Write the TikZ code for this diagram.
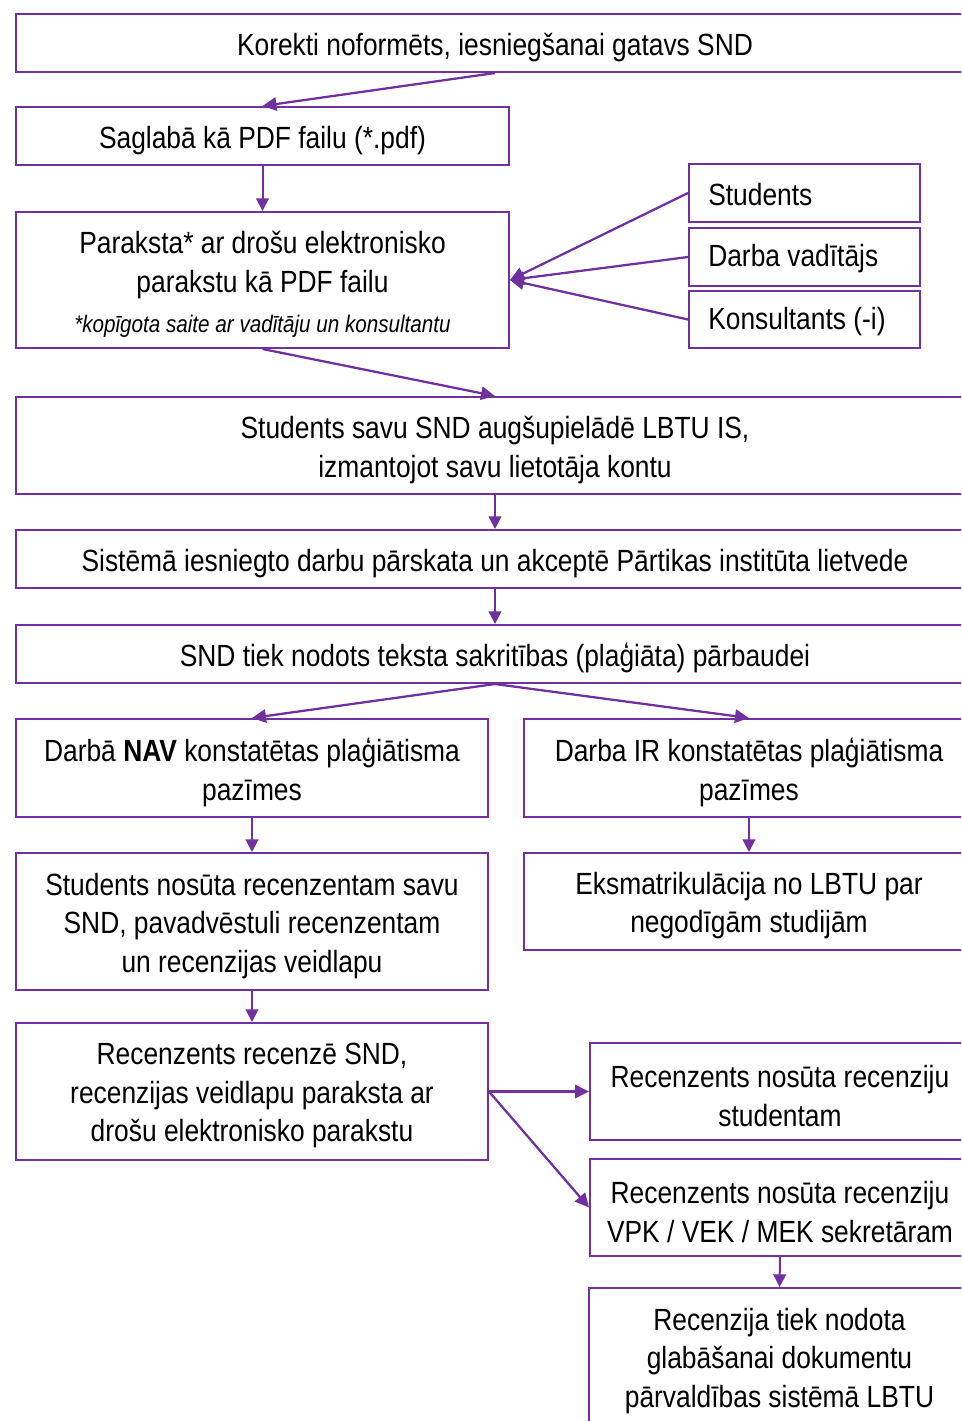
\documentclass[tikz,border=0pt]{standalone}
\usepackage{fontspec}
\setmainfont{Liberation Sans}[FakeStretch=0.86]
\usetikzlibrary{arrows.meta}
\definecolor{pp}{HTML}{7030A0}
\def\pxu{0.75pt}
\tikzset{
  pbox/.style={draw=pp, line width=1.5pt, rectangle, inner sep=0pt},
  txt/.style={align=center, inner sep=0pt, yshift=-3.2pt, font=\fontsize{23}{28.9}\selectfont},
  conn/.style={draw=pp, line width=1.7pt, -{Triangle[length=10.5pt,width=10pt]}},
  vconn/.style={draw=pp, line width=1.5pt, -{Triangle[length=9.5pt,width=9.5pt]}},
}
\begin{document}
\begin{tikzpicture}[x=0.75pt,y=-0.75pt]
\useasboundingbox (0,0) rectangle (961,1421);
\clip (0,0) rectangle (961,1421);
% boxes
\node[pbox, minimum width=958*\pxu, minimum height=58*\pxu] (b1) at (495,43) {};
\node[pbox, minimum width=493*\pxu, minimum height=58*\pxu] (b2) at (262.5,136) {};
\node[pbox, minimum width=493*\pxu, minimum height=136*\pxu] (b3) at (262.5,280) {};
\node[pbox, minimum width=231*\pxu, minimum height=58*\pxu] (s1) at (804.5,193) {};
\node[pbox, minimum width=231*\pxu, minimum height=58*\pxu] (s2) at (804.5,257) {};
\node[pbox, minimum width=231*\pxu, minimum height=57*\pxu] (s3) at (804.5,319.5) {};
\node[pbox, minimum width=958*\pxu, minimum height=97*\pxu] (b4) at (495,445.5) {};
\node[pbox, minimum width=958*\pxu, minimum height=58*\pxu] (b5) at (495,559) {};
\node[pbox, minimum width=958*\pxu, minimum height=58*\pxu] (b6) at (495,654) {};
\node[pbox, minimum width=472*\pxu, minimum height=98*\pxu] (b7l) at (252,768) {};
\node[pbox, minimum width=450*\pxu, minimum height=98*\pxu] (b7r) at (749,768) {};
\node[pbox, minimum width=472*\pxu, minimum height=137*\pxu] (b8l) at (252,921.5) {};
\node[pbox, minimum width=450*\pxu, minimum height=97*\pxu] (b8r) at (749,901.5) {};
\node[pbox, minimum width=472*\pxu, minimum height=137*\pxu] (b9) at (252,1091.5) {};
\node[pbox, minimum width=380*\pxu, minimum height=97*\pxu] (b10) at (780,1091.5) {};
\node[pbox, minimum width=380*\pxu, minimum height=97*\pxu] (b11) at (780,1207.5) {};
\node[pbox, minimum width=381*\pxu, minimum height=137*\pxu] (b12) at (779.5,1356.5) {};
% texts
\node[txt] (t1) at (b1.center) {Korekti noformēts, iesniegšanai gatavs SND};
\node[txt] (t2) at (b2.center) {Saglabā kā PDF failu (*.pdf)};
\node[txt] (t3) at (b3.center) {Paraksta* ar drošu elektronisko\\parakstu kā PDF failu\\[1pt]{\fontsize{18}{22}\itshape\selectfont *kopīgota saite ar vadītāju un konsultantu}};
\node[txt, anchor=west, yshift=2pt] (ts1) at ([xshift=20*\pxu]s1.west) {Students};
\node[txt, anchor=west, yshift=2pt] (ts2) at ([xshift=20*\pxu]s2.west) {Darba vadītājs};
\node[txt, anchor=west, yshift=2pt] (ts3) at ([xshift=20*\pxu]s3.west) {Konsultants (-i)};
\node[txt] (t4) at (b4.center) {Students savu SND augšupielādē LBTU IS,\\izmantojot savu lietotāja kontu};
\node[txt] (t5) at (b5.center) {Sistēmā iesniegto darbu pārskata un akceptē Pārtikas institūta lietvede};
\node[txt] (t6) at (b6.center) {SND tiek nodots teksta sakritības (plaģiāta) pārbaudei};
\node[txt] (t7l) at (b7l.center) {Darbā \textbf{NAV} konstatētas plaģiātisma\\pazīmes};
\node[txt] (t7r) at (b7r.center) {Darba IR konstatētas plaģiātisma\\pazīmes};
\node[txt] (t8l) at (b8l.center) {Students nosūta recenzentam savu\\SND, pavadvēstuli recenzentam\\un recenzijas veidlapu};
\node[txt] (t8r) at (b8r.center) {Eksmatrikulācija no LBTU par\\negodīgām studijām};
\node[txt] (t9) at (b9.center) {Recenzents recenzē SND,\\recenzijas veidlapu paraksta ar\\drošu elektronisko parakstu};
\node[txt] (t10) at (b10.center) {Recenzents nosūta recenziju\\studentam};
\node[txt] (t11) at (b11.center) {Recenzents nosūta recenziju\\VPK / VEK / MEK sekretāram};
\node[txt] (t12) at (b12.center) {Recenzija tiek nodota\\glabāšanai dokumentu\\pārvaldības sistēmā LBTU};
% connectors
\draw[conn] (b1.south) -- (b2.north);
\draw[vconn] (b2.south) -- (b3.north);
\draw[conn] (s1.west) -- (b3.east);
\draw[conn] (s2.west) -- (b3.east);
\draw[conn] (s3.west) -- (b3.east);
\draw[conn] (b3.south) -- (b4.north);
\draw[vconn] (b4.south) -- (b5.north);
\draw[vconn] (b5.south) -- (b6.north);
\draw[conn] (b6.south) -- (b7l.north);
\draw[conn] (b6.south) -- (b7r.north);
\draw[vconn] (b7l.south) -- (b8l.north);
\draw[vconn] (b7r.south) -- (b8r.north);
\draw[vconn] (b8l.south) -- (b9.north);
\draw[conn] (b9.east) -- (b10.west);
\draw[conn] (b9.east) -- (b11.west);
\draw[vconn] (b11.south) -- (b12.north);
\end{tikzpicture}
\end{document}
